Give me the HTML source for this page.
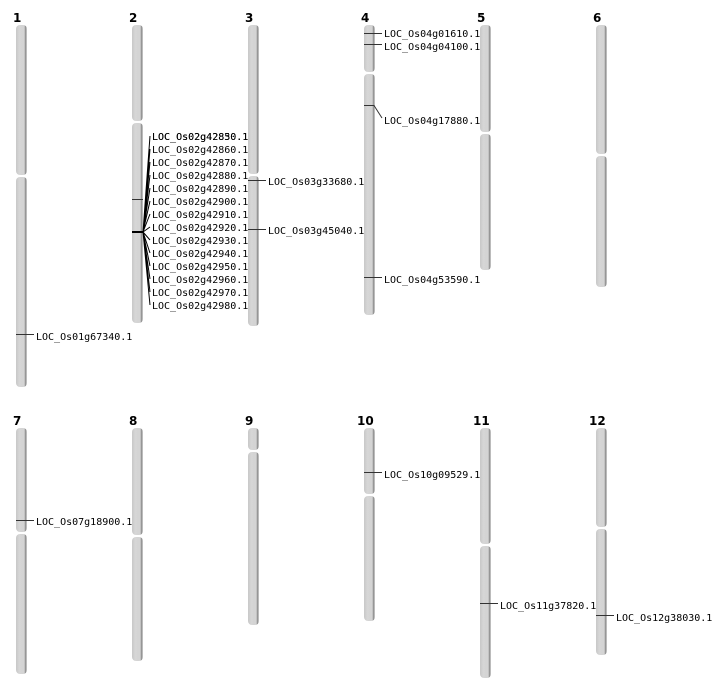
<!DOCTYPE html>
<html><head><meta charset="utf-8"><style>
html,body{margin:0;padding:0;background:#fff;width:712px;height:700px;overflow:hidden}
svg text{font-family:"DejaVu Sans Mono","Liberation Mono",monospace;font-size:10px;fill:#000}
svg text.n{font-family:"DejaVu Sans","Liberation Sans",sans-serif;font-weight:bold;font-size:12px}
</style></head><body>
<svg width="712" height="700" xmlns="http://www.w3.org/2000/svg">
<defs>
<linearGradient id="g" x1="0" x2="1"><stop offset="0" stop-color="#c8c8c8"/><stop offset="0.3" stop-color="#d6d6d6"/><stop offset="0.75" stop-color="#d3d3d3"/><stop offset="0.85" stop-color="#8a8a8a"/><stop offset="1" stop-color="#d0d0d0"/></linearGradient>
</defs>
<g fill="url(#g)">
<!-- row1 -->
<rect x="16" y="25" width="11" height="150" rx="4"/><rect x="16" y="177" width="11" height="210" rx="4"/>
<rect x="132" y="25" width="11" height="96" rx="4"/><rect x="132" y="123" width="11" height="200" rx="4"/>
<rect x="248" y="25" width="11" height="149" rx="4"/><rect x="248" y="176" width="11" height="150" rx="4"/>
<rect x="364" y="25" width="11" height="47" rx="4"/><rect x="364" y="74" width="11" height="241" rx="4"/>
<rect x="480" y="25" width="11" height="107" rx="4"/><rect x="480" y="134" width="11" height="136" rx="4"/>
<rect x="596" y="25" width="11" height="129" rx="4"/><rect x="596" y="156" width="11" height="131" rx="4"/>
<!-- row2 -->
<rect x="16" y="428" width="11" height="104" rx="4"/><rect x="16" y="534" width="11" height="140" rx="4"/>
<rect x="132" y="428" width="11" height="107" rx="4"/><rect x="132" y="537" width="11" height="124" rx="4"/>
<rect x="248" y="428" width="11" height="22" rx="4"/><rect x="248" y="452" width="11" height="173" rx="4"/>
<rect x="364" y="428" width="11" height="66" rx="4"/><rect x="364" y="496" width="11" height="125" rx="4"/>
<rect x="480" y="428" width="11" height="116" rx="4"/><rect x="480" y="546" width="11" height="132" rx="4"/>
<rect x="596" y="428" width="11" height="99" rx="4"/><rect x="596" y="529" width="11" height="126" rx="4"/>
</g>
<g>
<text class="n" x="13" y="22">1</text><text class="n" x="129" y="22">2</text><text class="n" x="245" y="22">3</text>
<text class="n" x="361" y="22">4</text><text class="n" x="477" y="22">5</text><text class="n" x="593" y="22">6</text>
<text class="n" x="13" y="425">7</text><text class="n" x="129" y="425">8</text><text class="n" x="245" y="425">9</text>
<text class="n" x="357" y="425">10</text><text class="n" x="473" y="425">11</text><text class="n" x="589" y="425">12</text>
</g>
<g stroke="#333" stroke-width="1" fill="none">
<line x1="16" y1="334.5" x2="34" y2="334.5"/>
<line x1="132" y1="199.5" x2="143" y2="199.5"/>
<line x1="132" y1="232" x2="143" y2="232" stroke-width="2" stroke="#000"/>
<path d="M143 232L150 136M143 232L150 149M143 232L150 162M143 232L150 175M143 232L150 188M143 232L150 201M143 232L150 214M143 232L150 227M143 232L150 240M143 232L150 253M143 232L150 266M143 232L150 279M143 232L150 292M143 232L150 305" stroke="#000"/>
<line x1="248" y1="180.5" x2="266" y2="180.5"/>
<line x1="248" y1="229.5" x2="266" y2="229.5"/>
<line x1="364" y1="33.5" x2="382" y2="33.5"/>
<line x1="364" y1="44.5" x2="382" y2="44.5"/>
<path d="M364 105.5H374L382 118"/>
<line x1="364" y1="277.5" x2="382" y2="277.5"/>
<line x1="16" y1="520.5" x2="34" y2="520.5"/>
<line x1="364" y1="472.5" x2="382" y2="472.5"/>
<line x1="480" y1="603.5" x2="498" y2="603.5"/>
<line x1="596" y1="615.5" x2="614" y2="615.5"/>
</g>
<g>
<text x="36" y="340">LOC_Os01g67340.1</text>
<text x="152" y="140">LOC_Os02g42830.1</text>
<text x="152" y="140">LOC_Os02g42850.1</text>
<text x="152" y="153">LOC_Os02g42860.1</text>
<text x="152" y="166">LOC_Os02g42870.1</text>
<text x="152" y="179">LOC_Os02g42880.1</text>
<text x="152" y="192">LOC_Os02g42890.1</text>
<text x="152" y="205">LOC_Os02g42900.1</text>
<text x="152" y="218">LOC_Os02g42910.1</text>
<text x="152" y="231">LOC_Os02g42920.1</text>
<text x="152" y="244">LOC_Os02g42930.1</text>
<text x="152" y="257">LOC_Os02g42940.1</text>
<text x="152" y="270">LOC_Os02g42950.1</text>
<text x="152" y="283">LOC_Os02g42960.1</text>
<text x="152" y="296">LOC_Os02g42970.1</text>
<text x="152" y="309">LOC_Os02g42980.1</text>
<text x="268" y="185">LOC_Os03g33680.1</text>
<text x="268" y="234">LOC_Os03g45040.1</text>
<text x="384" y="37">LOC_Os04g01610.1</text>
<text x="384" y="50">LOC_Os04g04100.1</text>
<text x="384" y="124">LOC_Os04g17880.1</text>
<text x="384" y="283">LOC_Os04g53590.1</text>
<text x="36" y="525">LOC_Os07g18900.1</text>
<text x="384" y="478">LOC_Os10g09529.1</text>
<text x="500" y="609">LOC_Os11g37820.1</text>
<text x="616" y="621">LOC_Os12g38030.1</text>
</g>
</svg>
</body></html>
